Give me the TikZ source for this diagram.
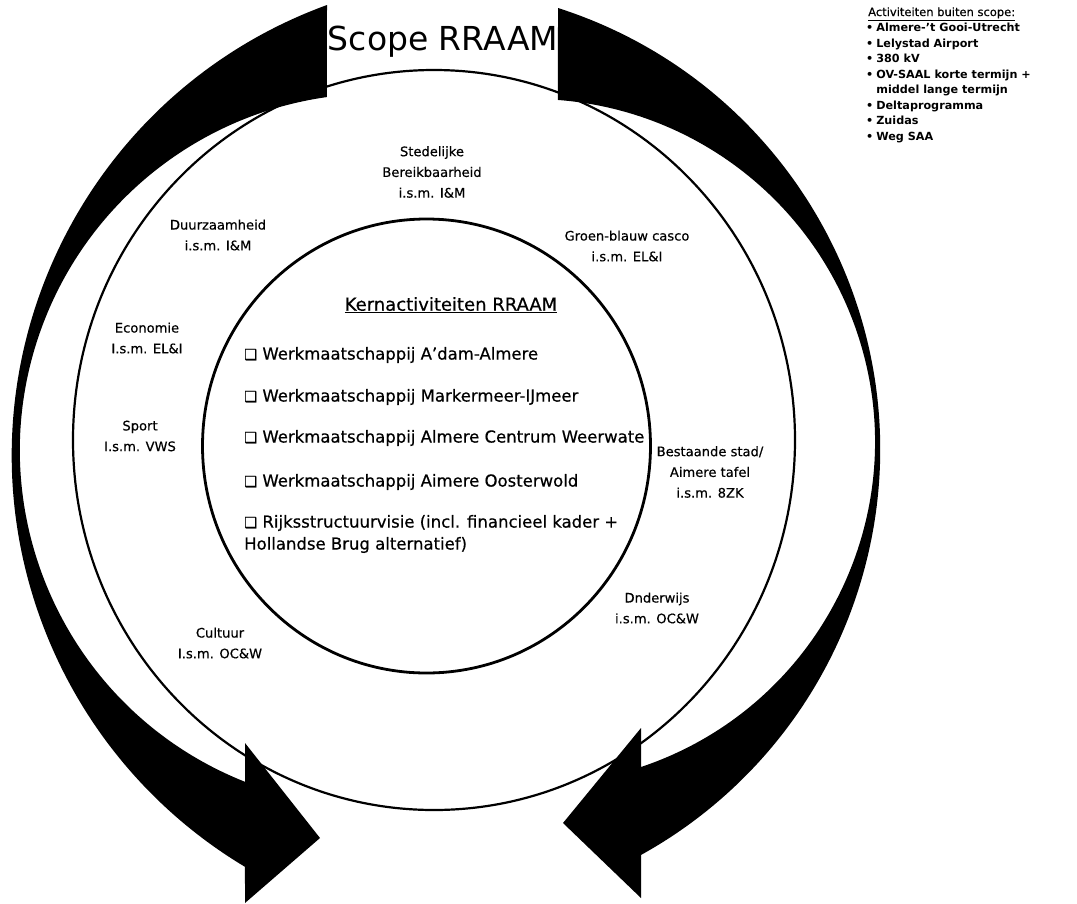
\documentclass[tikz,border=0pt]{standalone}
\usepackage{fontspec}
\setmainfont{DejaVu Sans}
\newfontfamily\scanfont[FakeBold=0.5]{DejaVu Sans}
\begin{document}
\begin{tikzpicture}[x=1pt,y=-1pt,
  ring/.style={font=\scanfont\fontsize{13.1}{20.7}\selectfont, align=center, inner sep=0pt},
  core/.style={font=\scanfont\fontsize{16.5}{22}\selectfont, align=left, anchor=west, inner sep=0pt},
  band/.style={fill=black, draw=none}]
\useasboundingbox (0,0) rectangle (1077,903);
\newcommand{\cbox}{{\fontsize{14.5}{14.5}\selectfont ❑}}
% rings
\draw[line width=2.2pt] (434,440) ellipse [x radius=361, y radius=370];
\draw[line width=2.8pt] (426.5,446) ellipse [x radius=224, y radius=227];
% curved arrows
\fill[band] (327,5) arc[start angle=249.96, end angle=120.91, radius=479.5]
  -- (245,903) -- (320,838) -- (245,743) -- (245,781.8)
  arc[start angle=111.65, end angle=262.0, radius=356.7] -- cycle;
\fill[band] (558,8) arc[start angle=287.76, end angle=421.04, radius=463.5]
  -- (641,898) -- (563,823) -- (641,728) -- (641,767)
  arc[start angle=71.48, end angle=-85.67, radius=342.9] -- cycle;
% title
\node[font=\fontsize{33}{36}\selectfont, inner sep=0pt] (title) at (443,42) {Scope RRAAM};
% ring labels
\node[ring] (sted) at (432,172) {Stedelijke\\Bereikbaarheid\\i.s.m. I\&M};
\node[ring] (duur) at (218,235) {Duurzaamheid\\i.s.m. I\&M};
\node[ring] (groen) at (627,246) {Groen-blauw casco\\i.s.m. EL\&I};
\node[ring] (econ) at (147,338) {Economie\\I.s.m. EL\&I};
\node[ring] (sport) at (140,436) {Sport\\I.s.m. VWS};
\node[ring] (best) at (710,472) {Bestaande stad/\\Aimere tafel\\i.s.m. 8ZK};
\node[ring] (onder) at (657,608) {Dnderwijs\\i.s.m. OC\&W};
\node[ring] (cult) at (220,643) {Cultuur\\I.s.m. OC\&W};
% core
\node[font=\scanfont\fontsize{18}{20}\selectfont, inner sep=0pt] (kern) at (451,305) {\underline{Kernactiviteiten RRAAM}};
\node[core] (w1) at (244,355) {\cbox\ Werkmaatschappij A’dam-Almere};
\node[core] (w2) at (244,397) {\cbox\ Werkmaatschappij Markermeer-IJmeer};
\node[core] (w3) at (244,438) {\cbox\ Werkmaatschappij Almere Centrum Weerwate};
\node[core] (w4) at (244,482) {\cbox\ Werkmaatschappij Aimere Oosterwold};
\node[core] (w5) at (244,534) {\cbox\ Rijksstructuurvisie (incl. financieel kader +\\Hollandse Brug alternatief)};
% outside list
\node[font=\bfseries\fontsize{11.2}{15.5}\selectfont, anchor=north west, inner sep=0pt, align=left] (list) at (866,5) {%
\begin{tabular}{@{}l@{\hspace{3pt}}l@{}}
\multicolumn{2}{@{}l@{}}{\hspace{2pt}\mdseries\scanfont\fontsize{11.5}{15.5}\selectfont\underline{Activiteiten buiten scope:}}\\
• & Almere-’t Gooi-Utrecht\\
• & Lelystad Airport\\
• & 380 kV\\
• & OV-SAAL korte termijn +\\
  & middel lange termijn\\
• & Deltaprogramma\\
• & Zuidas\\
• & Weg SAA
\end{tabular}};
\end{tikzpicture}
\end{document}
